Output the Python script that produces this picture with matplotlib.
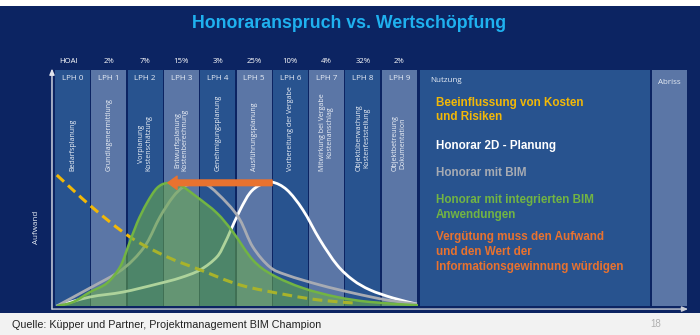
import matplotlib
matplotlib.use("Agg")
import matplotlib.pyplot as plt
from matplotlib.patches import Rectangle, FancyArrowPatch, PathPatch
from matplotlib.path import Path

# ---------------- data ----------------
phases = ["LPH 0", "LPH 1", "LPH 2", "LPH 3", "LPH 4", "LPH 5", "LPH 6", "LPH 7", "LPH 8", "LPH 9"]
hoai_share = ["HOAI", "2%", "7%", "15%", "3%", "25%", "10%", "4%", "32%", "2%"]
phase_desc = ["Bedarfsplanung", "Grundlagenermittlung", "Vorplanung\nKostenschätzung",
              "Entwurfsplanung\nKostenberechnung", "Genehmigungsplanung", "Ausführungsplanung",
              "Vorbereitung der Vergabe", "Mitwirkung bei Vergabe\nKostenanschlag",
              "Objektüberwachung\nKostenfeststellung", "Objektbetreuung\nDokumentation"]
later_phases = ["Nutzung", "Abriss"]

# effort curves (x in phase units, y in effort units 0..100)
infl_x = [0.05, 1.02, 2.07, 3.09, 4.0, 5.1, 6.39, 7.3, 8.2]
infl_y = [55.5, 41.9, 29.2, 20.8, 15.3, 8.9, 4.7, 2.5, 1.3]

bim_int_x = [0.05, 0.5, 0.96, 1.43, 1.79, 2.01, 2.26, 2.53, 2.81, 3.09, 3.44, 3.91, 4.46, 4.9, 5.45, 6.0, 6.83, 7.77, 8.68, 10.0]
bim_int_y = [0.0, 1.7, 5.9, 9.7, 16.5, 25.0, 35.2, 43.6, 50.0, 52.1, 51.3, 46.2, 39.4, 31.4, 19.5, 13.1, 7.6, 3.8, 1.7, 0.3]

bim_x = [0.05, 0.96, 1.71, 2.15, 2.53, 2.89, 3.25, 3.53, 3.8, 4.19, 4.74, 5.1, 5.45, 5.92, 6.39, 7.3, 8.21, 9.15, 9.97]
bim_y = [0.0, 7.6, 14.0, 19.5, 26.7, 37.7, 46.2, 50.4, 51.7, 51.3, 43.6, 36.4, 25.0, 16.5, 13.1, 8.9, 5.5, 2.5, 0.8]

plan2d_x = [0.05, 0.96, 1.87, 2.81, 3.44, 4.0, 4.46, 4.68, 4.82, 5.1, 5.37, 5.65, 5.98, 6.39, 6.83, 7.3, 7.77, 8.21, 8.68, 9.31, 9.97]
plan2d_y = [0.0, 3.8, 5.9, 9.3, 11.9, 15.3, 20.8, 26.7, 31.4, 40.7, 47.9, 51.3, 52.5, 49.2, 40.7, 28.0, 17.4, 11.0, 6.8, 3.4, 0.8]

shift_from = (5.98, 52.2)
shift_to = (3.11, 52.2)

legend_texts = ["Beeinflussung von Kosten\nund Risiken", "Honorar 2D - Planung", "Honorar mit BIM",
                "Honorar mit integrierten BIM\nAnwendungen",
                "Vergütung muss den Aufwand\nund den Wert der\nInformationsgewinnung würdigen"]

# ---------------- styling ----------------
W, H = 700, 335
NAVY = "#0c2462"
DARK = "#28538f"
LIGHT = "#5b76a6"
YEL = "#f2b807"
GREEN = "#72b443"
GRAY = "#a7abb3"
ORANGE = "#e8722f"

fig = plt.figure(figsize=(W / 100, H / 100), dpi=100)
fig.patch.set_facecolor("white")

def fx(px):
    return px / W

def fy(py):
    return 1 - py / H

def smooth_path(xs, ys, close_to_base=False):
    """Smooth curve through the given points (Catmull-Rom drawn as cubic Bezier)."""
    pts = list(zip(xs, ys))
    verts = [pts[0]]
    codes = [Path.MOVETO]
    n = len(pts)
    for i in range(n - 1):
        p0 = pts[i - 1] if i > 0 else pts[i]
        p1 = pts[i]
        p2 = pts[i + 1]
        p3 = pts[i + 2] if i + 2 < n else pts[i + 1]
        c1 = (p1[0] + (p2[0] - p0[0]) / 6, p1[1] + (p2[1] - p0[1]) / 6)
        c2 = (p2[0] - (p3[0] - p1[0]) / 6, p2[1] - (p3[1] - p1[1]) / 6)
        verts += [c1, c2, p2]
        codes += [Path.CURVE4] * 3
    if close_to_base:
        verts += [(xs[-1], 0), (xs[0], 0), (xs[0], 0)]
        codes += [Path.LINETO, Path.LINETO, Path.CLOSEPOLY]
    return Path(verts, codes)

# backgrounds
fig.patches.append(Rectangle((0, fy(313)), 1, fy(6) - fy(313), transform=fig.transFigure,
                             facecolor=NAVY, edgecolor="none", zorder=-10))
fig.patches.append(Rectangle((0, 0), 1, fy(313), transform=fig.transFigure,
                             facecolor="#f2f2f2", edgecolor="none", zorder=-10))

# main axes: x 0..17.41 phase units over px 55..687, y 0..100 over px 306..70
ax = fig.add_axes([fx(55), fy(306), fx(687) - fx(55), fy(70) - fy(306)])
ax.set_zorder(2)
ax.set_xlim(0, 17.41)
ax.set_ylim(0, 100)
ax.axis("off")
ax.patch.set_alpha(0)

unit = 36.3
colw = 35 / unit
lefts = list(range(len(phases)))
cols = [DARK if i % 2 == 0 else LIGHT for i in range(len(phases))]
ax.bar(lefts, [100] * len(phases), width=colw, align="edge", color=cols, zorder=1)
nut_left = (420 - 55) / unit
nut_w = (650 - 420) / unit
abr_left = (652 - 55) / unit
ax.bar([nut_left, abr_left], [100, 100], width=[nut_w, colw], align="edge",
       color=[DARK, LIGHT], zorder=1)

# column headers
lab_font = ["Open Sans", "DejaVu Sans"]
for i, name in enumerate(phases):
    ax.text(i + colw / 2, 96.2, name, ha="center", va="center", color="#e6ecf5",
            fontsize=5.8, family=lab_font, zorder=5)
    ax.text(i + colw / 2 - (0.1 if i == 0 else 0), 103.8, hoai_share[i], ha="center",
            va="center", color="white", fontsize=5.6, family=lab_font, zorder=5, clip_on=False)
    ax.text(i + colw / 2, 57, phase_desc[i], ha="center", va="bottom", rotation=90,
            color="#eef2f8", fontsize=5.0, family=lab_font, linespacing=1.05, zorder=5)
ax.text(nut_left + 0.28, 95.5, later_phases[0], ha="left", va="center", color="#e6ecf5",
        fontsize=5.8, family=lab_font, zorder=5)
ax.text(abr_left + colw / 2, 94.8, later_phases[1], ha="center", va="center", color="#e6ecf5",
        fontsize=5.8, family=lab_font, zorder=5)

# curves (lines under the green fill appear tinted, as in the reference)
ax.add_patch(PathPatch(smooth_path(plan2d_x, plan2d_y), facecolor="none", edgecolor="white",
                       lw=2.0, zorder=2))
ax.add_patch(PathPatch(smooth_path(bim_x, bim_y), facecolor="none", edgecolor=GRAY,
                       lw=2.0, zorder=2))
ax.add_patch(PathPatch(smooth_path(infl_x, infl_y), facecolor="none", edgecolor=YEL,
                       lw=2.2, ls=(0, (3.2, 1.8)), zorder=2))
ax.add_patch(PathPatch(smooth_path(bim_int_x, bim_int_y, close_to_base=True),
                       facecolor="#6cb04a", alpha=0.55, edgecolor="none", lw=0, zorder=3))
ax.add_patch(PathPatch(smooth_path(bim_int_x, bim_int_y), facecolor="none", edgecolor=GREEN,
                       lw=1.8, zorder=4))

arrow = FancyArrowPatch(shift_from, shift_to,
                        arrowstyle="simple,head_length=0.55,head_width=0.8,tail_width=0.34",
                        mutation_scale=12, color=ORANGE, shrinkA=0, shrinkB=0, zorder=6)
ax.add_patch(arrow)

# axis arrows
ax.annotate("", xy=(-0.083, 100.6), xytext=(-0.083, -1.3),
            arrowprops=dict(arrowstyle="-|>,head_length=0.35,head_width=0.15", color="#e0e4ec",
                            lw=1.0, shrinkA=0, shrinkB=0), annotation_clip=False)
ax.annotate("", xy=(17.44, -1.3), xytext=(-0.083, -1.3),
            arrowprops=dict(arrowstyle="-|>,head_length=0.35,head_width=0.15", color="#c8ccd6",
                            lw=1.0, shrinkA=0, shrinkB=0), annotation_clip=False)

fig.text(fx(37), fy(227), "Aufwand", rotation=90, ha="center", va="center",
         color="#e6ecf5", fontsize=5.8, family=lab_font)

# title
fig.text(fx(349), fy(23), "Honoraranspruch vs. Wertschöpfung", ha="center", va="center",
         color="#1fb1ef", fontsize=12.8, fontweight="bold",
         family=["Liberation Sans", "DejaVu Sans"])

# right panel statements
txt_cols = [YEL, "white", GRAY, GREEN, ORANGE]
txt_y = [110, 146, 173, 207.5, 252]
for t, c, y in zip(legend_texts, txt_cols, txt_y):
    fig.text(fx(436), fy(y), t, ha="left", va="center", color=c, fontsize=8.4,
             fontweight="bold", family=["Liberation Sans", "DejaVu Sans"], linespacing=1.28)

# footer
fig.text(fx(12), fy(325), "Quelle: Küpper und Partner, Projektmanagement BIM Champion",
         ha="left", va="center", color="#222222", fontsize=7.75,
         family=["Liberation Sans", "DejaVu Sans"])
fig.text(fx(656), fy(324), "18", ha="center", va="center", color="#b0b0b0", fontsize=7,
         family=["Liberation Sans", "DejaVu Sans"])

fig.savefig("out.png", dpi=100, facecolor=fig.get_facecolor())
